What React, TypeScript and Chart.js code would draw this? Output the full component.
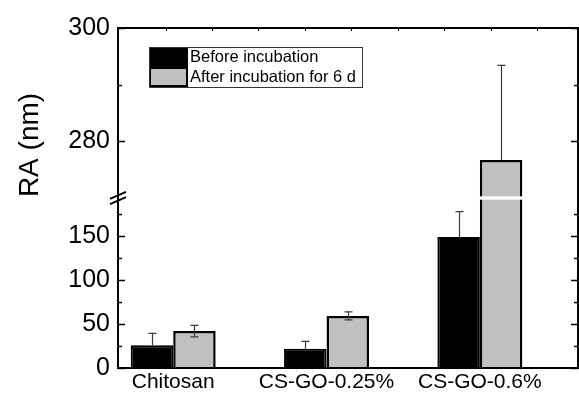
import React, { useEffect, useRef } from 'react';
import { Chart, registerables, LinearScale } from 'chart.js';

// ---- data ----
const CATEGORIES = ['Chitosan', 'CS-GO-0.25%', 'CS-GO-0.6%'];
const SERIES_NAMES = ['Before incubation', 'After incubation for 6 d'];
const BEFORE = [26, 22, 149];
const BEFORE_ERR = [13.5, 8.4, 29];
const AFTER = [42, 59.3, 276.7];
const AFTER_ERR = [6.5, 4.5, 16.7];
const Y_MAJOR_TICKS = [0, 50, 100, 150, 280, 300];
const Y_MINOR_TICKS = [25, 75, 125, 175, 290];
const Y_TITLE = 'RA (nm)';

// broken axis ranges
const LOWER_MAX = 191.5;
const UPPER_MIN = 270.3;
const UPPER_MAX = 300;
const LOWER_FRAC = 0.495;
const UPPER_FRAC = 0.495;

const FONT = '"Liberation Sans", Arial, Helvetica, sans-serif';

class BrokenLinearScale extends LinearScale {
  static id = 'brokenLinear';
  static defaults = LinearScale.defaults;
  segPx() {
    const h = this.bottom - this.top;
    return { low: h * LOWER_FRAC, up: h * UPPER_FRAC };
  }
  getPixelForValue(value: number) {
    const { low, up } = this.segPx();
    const yLowTop = this.bottom - low;
    const yUpBot = this.top + up;
    if (value <= LOWER_MAX) return this.bottom - (value / LOWER_MAX) * low;
    if (value >= UPPER_MIN) return this.top + ((UPPER_MAX - value) / (UPPER_MAX - UPPER_MIN)) * up;
    return yLowTop + ((value - LOWER_MAX) / (UPPER_MIN - LOWER_MAX)) * (yUpBot - yLowTop);
  }
  getValueForPixel(pixel: number) {
    const { low, up } = this.segPx();
    const yLowTop = this.bottom - low;
    const yUpBot = this.top + up;
    if (pixel >= yLowTop) return ((this.bottom - pixel) / low) * LOWER_MAX;
    if (pixel <= yUpBot) return UPPER_MAX - ((pixel - this.top) / up) * (UPPER_MAX - UPPER_MIN);
    return LOWER_MAX + ((yLowTop - pixel) / (yLowTop - yUpBot)) * (UPPER_MIN - LOWER_MAX);
  }
}

Chart.register(...registerables, BrokenLinearScale);

// 0 = lower segment, 1 = inside the break, 2 = upper segment
const segOf = (v: number) => (v <= LOWER_MAX ? 0 : v >= UPPER_MIN ? 2 : 1);

const decorPlugin = {
  id: 'decor',
  afterDatasetsDraw(chart: any) {
    const { ctx, chartArea: ca, scales } = chart;
    const y = scales.y;
    const x = scales.x;

    // error bars
    chart.data.datasets.forEach((ds: any, di: number) => {
      const meta = chart.getDatasetMeta(di);
      meta.data.forEach((bar: any, i: number) => {
        const v = ds.data[i].y;
        const e = ds.errors[i];
        const cx = Math.round(bar.x) + 0.5;
        const yv = y.getPixelForValue(v);
        const yHi = y.getPixelForValue(v + e);
        ctx.save();
        ctx.strokeStyle = '#3a3a3a';
        ctx.lineWidth = 1.2;
        ctx.beginPath();
        ctx.moveTo(cx, yv);
        ctx.lineTo(cx, yHi);
        ctx.moveTo(cx - 4, yHi);
        ctx.lineTo(cx + 4, yHi);
        if (ds.errDir === 'both' && segOf(v - e) === segOf(v)) {
          const yLo = y.getPixelForValue(v - e);
          ctx.moveTo(cx, yv);
          ctx.lineTo(cx, yLo);
          ctx.moveTo(cx - 4, yLo);
          ctx.lineTo(cx + 4, yLo);
        }
        ctx.stroke();
        ctx.restore();
      });
    });

    // white break band
    const gTop = y.getPixelForValue(UPPER_MIN);
    const gBot = y.getPixelForValue(LOWER_MAX);
    ctx.save();
    ctx.fillStyle = '#ffffff';
    ctx.fillRect(ca.left, gTop, ca.right - ca.left, gBot - gTop);
    ctx.restore();

    // frame
    ctx.save();
    ctx.strokeStyle = '#000';
    ctx.lineWidth = 2;
    ctx.strokeRect(ca.left, ca.top, ca.right - ca.left, ca.bottom - ca.top);

    // ticks
    const drawYTick = (v: number, len: number) => {
      const py = Math.round(y.getPixelForValue(v)) + 0.5;
      ctx.beginPath();
      ctx.moveTo(ca.left, py);
      ctx.lineTo(ca.left + len, py);
      ctx.moveTo(ca.right, py);
      ctx.lineTo(ca.right - len, py);
      ctx.stroke();
    };
    ctx.lineWidth = 1.5;
    Y_MAJOR_TICKS.forEach((v) => drawYTick(v, 7));
    Y_MINOR_TICKS.forEach((v) => drawYTick(v, 4));

    // small ticks along the top edge
    ctx.lineWidth = 1;
    for (let v = 0.95; v < x.max; v += 0.303) {
      const px = Math.round(x.getPixelForValue(v)) + 0.5;
      ctx.beginPath();
      ctx.moveTo(px, ca.top);
      ctx.lineTo(px, ca.top + 3);
      ctx.stroke();
    }

    // break marks on the y axis
    const gc = (gTop + gBot) / 2;
    ctx.lineWidth = 2;
    [-2.6, 2.6].forEach((off) => {
      ctx.beginPath();
      ctx.moveTo(ca.left - 8, gc + off + 3.5);
      ctx.lineTo(ca.left + 8, gc + off - 3.5);
      ctx.stroke();
    });
    ctx.restore();

    // legend
    const lx = ca.left + 31;
    const ly = ca.top + 19;
    const rowH = 20;
    const swW = 39;
    const boxW = 213;
    ctx.save();
    ctx.fillStyle = '#fff';
    ctx.fillRect(lx, ly, boxW, rowH * 2);
    chart.data.datasets.forEach((ds: any, di: number) => {
      const ry = ly + di * rowH;
      ctx.fillStyle = ds.backgroundColor;
      ctx.fillRect(lx, ry, swW, rowH);
      ctx.strokeStyle = '#000';
      ctx.lineWidth = 2;
      ctx.strokeRect(lx + 1, ry + 1, swW - 2, rowH - 2);
      ctx.fillStyle = '#000';
      ctx.font = `16.5px ${FONT}`;
      ctx.textAlign = 'left';
      ctx.textBaseline = 'middle';
      ctx.fillText(ds.label, lx + swW + 2, ry + rowH / 2 + 0.5);
    });
    ctx.strokeStyle = '#333';
    ctx.lineWidth = 1;
    ctx.strokeRect(lx + 0.5, ly + 0.5, boxW, rowH * 2);
    ctx.restore();

    // y title
    ctx.save();
    ctx.translate(30, 145);
    ctx.rotate(-Math.PI / 2);
    ctx.fillStyle = '#000';
    ctx.font = `28px ${FONT}`;
    ctx.textAlign = 'center';
    ctx.textBaseline = 'middle';
    ctx.fillText(Y_TITLE, 0, 0);
    ctx.restore();
  },
};

export default function App() {
  const ref = useRef<HTMLCanvasElement>(null);
  useEffect(() => {
    const canvas = ref.current;
    if (!canvas) return;
    const chart = new Chart(canvas, {
      type: 'bar',
      data: {
        datasets: [
          {
            label: SERIES_NAMES[0],
            data: BEFORE.map((v, i) => ({ x: i + 1, y: v })),
            backgroundColor: '#000000',
            borderColor: '#000000',
            borderWidth: 2,
            errors: BEFORE_ERR,
            errDir: 'plus',
          } as any,
          {
            label: SERIES_NAMES[1],
            data: AFTER.map((v, i) => ({ x: i + 1, y: v })),
            backgroundColor: '#c0c0c0',
            borderColor: '#000000',
            borderWidth: 2.5,
            errors: AFTER_ERR,
            errDir: 'both',
          } as any,
        ],
      },
      options: {
        responsive: false,
        animation: false,
        devicePixelRatio: 1,
        events: [],
        layout: { padding: { top: 28, right: 1, left: 0, bottom: 0 } },
        datasets: { bar: { categoryPercentage: 0.554, barPercentage: 1 } },
        plugins: { legend: { display: false }, tooltip: { enabled: false } },
        scales: {
          x: {
            type: 'linear',
            min: 0.64,
            max: 3.64,
            offset: false,
            grid: { display: false, drawTicks: false, offset: false },
            border: { display: false },
            afterBuildTicks: (s: any) => {
              s.ticks = CATEGORIES.map((_, i) => ({ value: i + 1 }));
            },
            afterFit: (s: any) => {
              s.height = 26;
            },
            ticks: {
              callback: (_v: any, i: number) => CATEGORIES[i],
              autoSkip: false,
              maxRotation: 0,
              padding: 2,
              color: '#000',
              font: { family: FONT, size: 21 },
            },
          },
          y: {
            type: 'brokenLinear' as any,
            min: 0,
            max: 300,
            grid: { display: false, drawTicks: false },
            border: { display: false },
            afterBuildTicks: (s: any) => {
              s.ticks = Y_MAJOR_TICKS.map((v) => ({ value: v }));
            },
            afterFit: (s: any) => {
              s.width = 118;
            },
            ticks: {
              callback: (v: any) => String(v),
              autoSkip: false,
              padding: 8,
              color: '#000',
              font: { family: FONT, size: 25 },
            },
          },
        },
      } as any,
      plugins: [decorPlugin],
    });
    return () => chart.destroy();
  }, []);
  return (
    <div style={{ position: 'fixed', left: 0, top: 0, width: 579, height: 394, background: '#fff' }}>
      <canvas ref={ref} width={579} height={394} style={{ display: 'block' }} />
    </div>
  );
}
